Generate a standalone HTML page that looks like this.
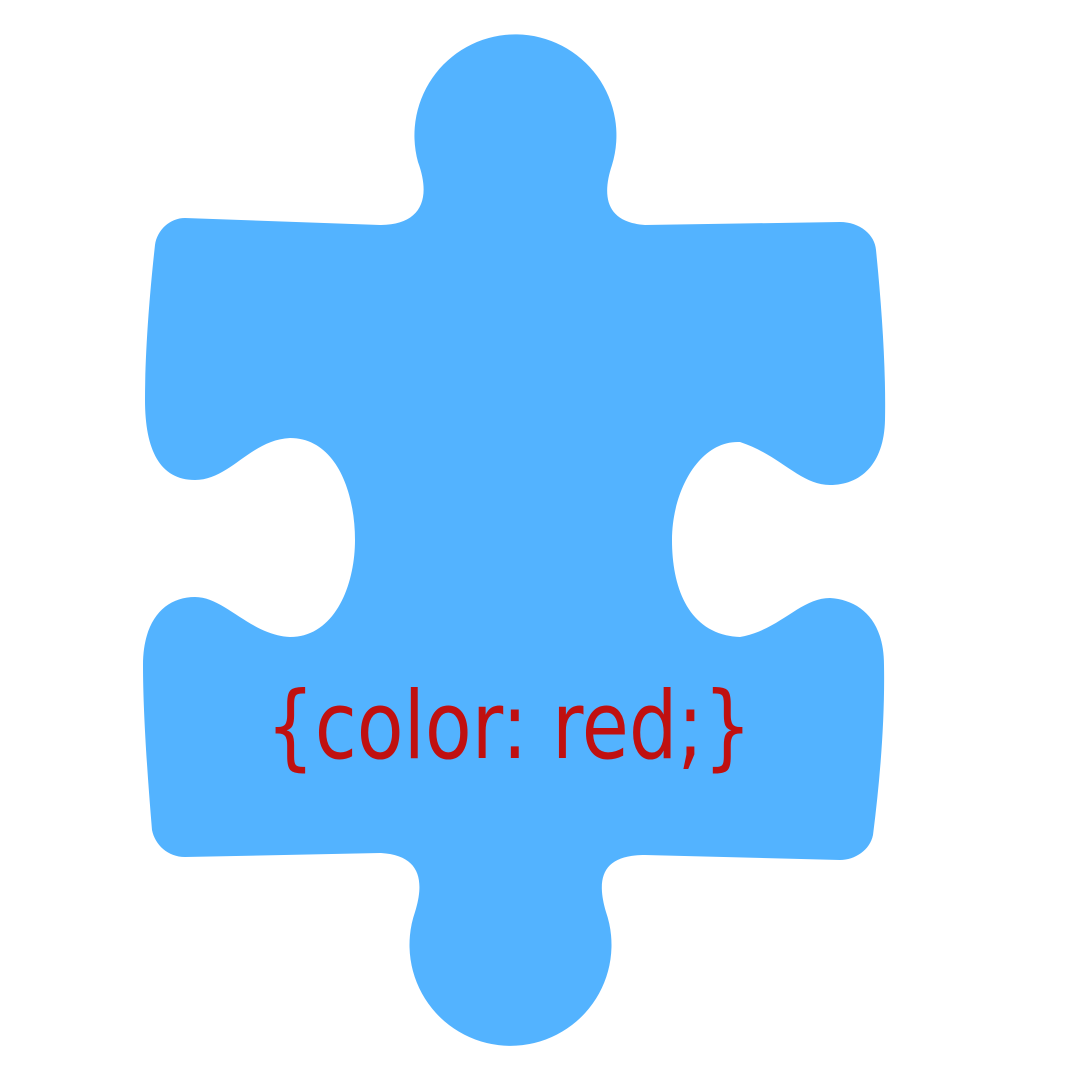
<!DOCTYPE html>
<html>
<head>
<meta charset="utf-8">
<style>
  html,body{margin:0;padding:0;background:#fff;width:1080px;height:1080px;overflow:hidden;}
  svg{display:block;}
</style>
</head>
<body>
<svg width="1080" height="1080" viewBox="0 0 1080 1080">
  <path fill="#53B3FF"
    d="M418,162
       A101,101 0 1 1 612,165
       C602,195 605,222 645,225
       L840,222
       C860,222 875,235 876,250
       C882,310 886,370 885,420
       C884,465 860,485 830,485
       C800,485 780,455 740,442
       C700,440 672,490 672,540
       C672,590 690,635 740,637
       C780,630 800,598 830,598
       C860,600 884,620 884,665
       C885,720 880,780 873,835
       C870,850 855,860 840,860
       L645,855
       C605,855 595,875 606,912
       A101,101 0 1 1 415,912
       C425,880 420,855 380,853
       L185,857
       C168,857 155,845 152,830
       C147,770 143,710 143,665
       C143,620 165,597 195,597
       C225,597 250,635 290,637
       C335,637 355,585 355,540
       C355,490 335,438 290,438
       C250,440 230,480 195,480
       C160,480 145,450 145,400
       C145,350 150,290 155,245
       C157,230 170,218 185,218
       L380,225
       C420,225 432,200 418,162 Z"/>
  <text x="266" y="758" textLength="486" lengthAdjust="spacingAndGlyphs"
    font-family="'DejaVu Sans','Liberation Sans',sans-serif" font-size="94" fill="#C01010">{color: red;}</text>
</svg>
</body>
</html>
